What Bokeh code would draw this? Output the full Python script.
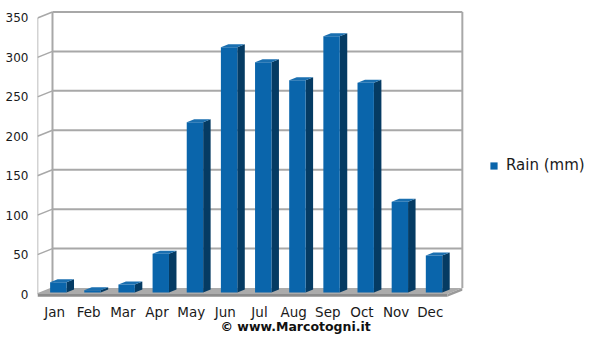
from bokeh.plotting import figure
from bokeh.models import Range1d, FixedTicker, Legend, LegendItem, Title
from bokeh.embed import file_html
from bokeh.resources import INLINE

months = ["Jan", "Feb", "Mar", "Apr", "May", "Jun", "Jul", "Aug", "Sep", "Oct", "Nov", "Dec"]
rain = [13, 3, 10, 49, 216, 311, 292, 269, 325, 266, 115, 47]
y_ticks = [0, 50, 100, 150, 200, 250, 300, 350]

# pseudo-3D depth (data units)
DX = 0.439
DY = 7.61
D0 = 0.25   # depth where bar front face sits
DB = 0.5    # bar depth fraction
BW = 0.48   # bar width
FT = 3.5    # floor thickness

n = len(months)
xs = list(range(n))
x_lo, x_hi = -0.5, n - 0.5
y_top = y_ticks[-1]

# frame spans to the right edge so the legend can sit inside it
p = figure(width=592, height=339, x_range=Range1d(-0.5, 15.75), y_range=Range1d(-5.7, 359.5),
           output_backend="svg", toolbar_location=None,
           min_border_left=37, min_border_right=0, min_border_top=10, min_border_bottom=41)
p.outline_line_color = None
p.xgrid.visible = False
p.ygrid.visible = False
p.background_fill_color = "white"
p.border_fill_color = "white"

grid_c = "#a8a8a8"
# back wall gridlines
gy = [h + DY for h in y_ticks[1:]]
p.segment(x0=[x_lo + DX] * len(gy), y0=gy, x1=[x_hi + DX] * len(gy), y1=gy, line_color=grid_c, line_width=2)
# diagonal connectors
p.segment(x0=[x_lo] * len(y_ticks), y0=y_ticks, x1=[x_lo + DX] * len(y_ticks),
          y1=[h + DY for h in y_ticks], line_color=grid_c, line_width=1.5)
# vertical wall edges
p.segment(x0=[x_lo, x_lo + DX, x_hi + DX], y0=[0, DY, DY], x1=[x_lo, x_lo + DX, x_hi + DX],
          y1=[y_top, y_top + DY, y_top + DY], line_color=grid_c, line_width=[1.5, 2, 2])

# floor
p.patch([x_lo, x_hi, x_hi + DX, x_lo + DX], [0, 0, DY, DY], fill_color="#ababab", line_color=None)
p.patch([x_lo, x_hi, x_hi, x_lo], [0, 0, -FT, -FT], fill_color="#8c8c8c", line_color=None)
p.patch([x_hi, x_hi + DX, x_hi + DX, x_hi], [0, DY, DY - FT, -FT], fill_color="#9a9a9a", line_color=None)

# bars
bx = [x + D0 * DX for x in xs]
bb = D0 * DY
btop = [v + bb for v in rain]
sdx = DB * DX
sdy = DB * DY
side_xs = [[c + BW / 2, c + BW / 2 + sdx, c + BW / 2 + sdx, c + BW / 2] for c in bx]
side_ys = [[bb, bb + sdy, t + sdy, t] for t in btop]
top_xs = [[c - BW / 2, c + BW / 2, c + BW / 2 + sdx, c - BW / 2 + sdx] for c in bx]
top_ys = [[t, t, t + sdy, t + sdy] for t in btop]
p.patches(side_xs, side_ys, fill_color="#053b63", line_color=None)
p.patches(top_xs, top_ys, fill_color="#1a6fb0", line_color=None)
bars = p.vbar(x=bx, top=btop, bottom=bb, width=BW, fill_color="#0a65ab", line_color=None)

# axes
font = "DejaVu Sans"
p.xaxis.ticker = FixedTicker(ticks=xs)
p.xaxis.major_label_overrides = {i: m for i, m in enumerate(months)}
p.yaxis.ticker = FixedTicker(ticks=y_ticks)
for ax in (p.xaxis[0], p.yaxis[0]):
    ax.axis_line_color = None
    ax.major_tick_line_color = None
    ax.minor_tick_line_color = None
    ax.major_tick_out = 0
    ax.major_tick_in = 0
    ax.major_label_text_font = font
    ax.major_label_text_color = "#1a1a1a"
p.yaxis.major_label_text_font_size = "12px"
p.xaxis.major_label_text_font_size = "13.5px"
p.xaxis.major_label_standoff = 5
p.yaxis.major_label_standoff = 9

legend = Legend(items=[LegendItem(label="Rain (mm)", renderers=[bars])], location=(452, 124),
                glyph_width=9, glyph_height=9, label_standoff=8, label_text_font=font,
                label_text_font_size="15px", label_text_color="#1a1a1a", padding=0, margin=0,
                border_line_color=None, background_fill_alpha=0, label_height=18)
p.add_layout(legend)

credit = Title(text="© www.Marcotogni.it", align="left", offset=183, standoff=-11,
               text_font=font, text_font_style="bold", text_font_size="12.5px", text_color="#111111")
p.add_layout(credit, "below")

open("out.html", "w").write(file_html(p, INLINE))
